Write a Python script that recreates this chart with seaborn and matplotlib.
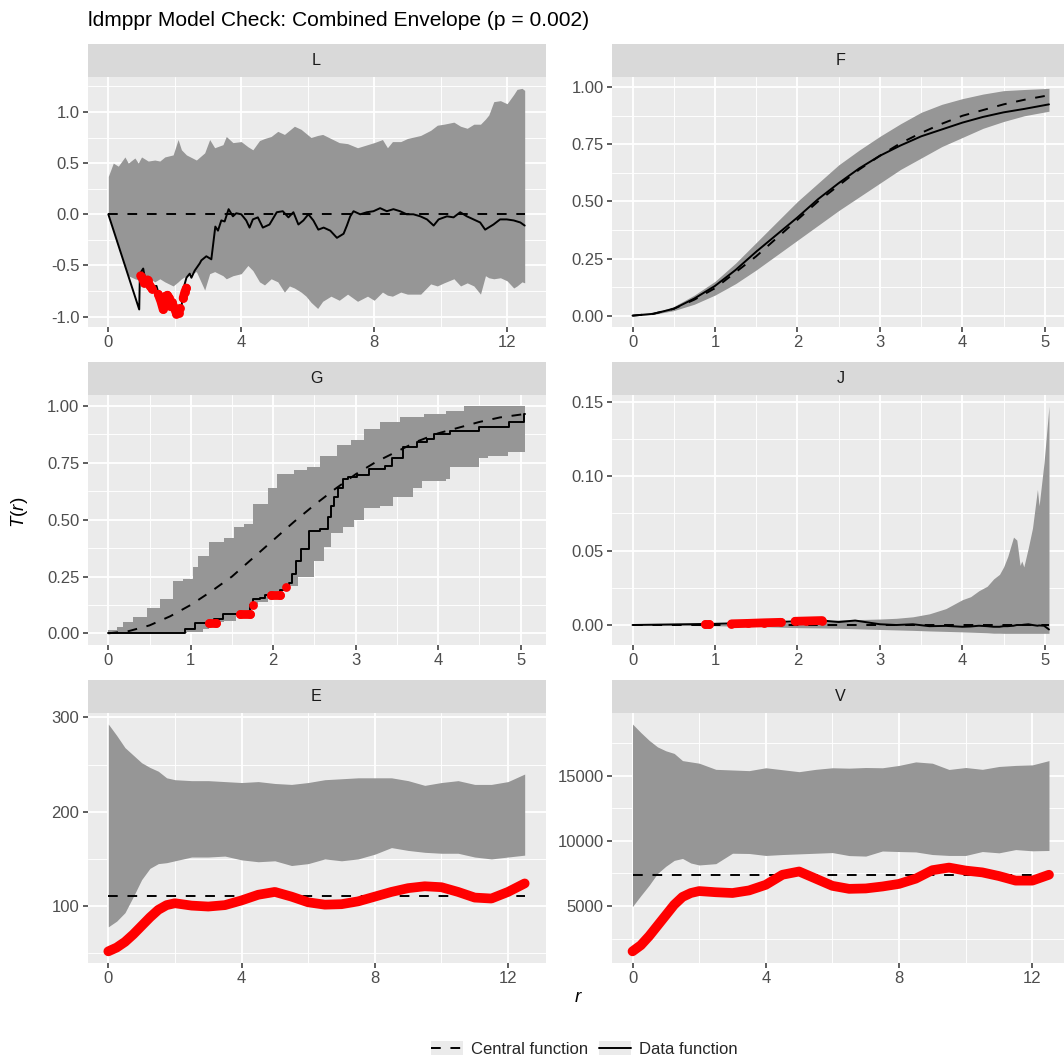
import numpy as np
import pandas as pd
import matplotlib
matplotlib.use("Agg")
import matplotlib.pyplot as plt
import seaborn as sns
from matplotlib.lines import Line2D
from matplotlib.patches import Rectangle
from matplotlib.legend_handler import HandlerLine2D

# ---------------- data ----------------
TITLE = "ldmppr Model Check: Combined Envelope (p = 0.002)"
PANEL_NAMES = ["L", "F", "G", "J", "E", "V"]
LEGEND_LABELS = ["Central function", "Data function"]

# L panel
L_r_env = [0, 0.15, 0.3, 0.5, 0.6, 0.8, 0.9, 1.0, 1.2, 1.4, 1.55, 1.7, 1.95, 2.1, 2.2, 2.35, 2.65, 2.9,
           3.05, 3.2, 3.45, 3.55, 3.75, 4.0, 4.2, 4.35, 4.55, 4.7, 4.9, 5.1, 5.3, 5.45, 5.6, 5.8, 5.95,
           6.1, 6.3, 6.45, 6.7, 6.95, 7.2, 7.5, 7.8, 8.0, 8.25, 8.4, 8.55, 8.8, 9.0, 9.4, 9.7, 9.9,
           10.1, 10.4, 10.6, 10.8, 11.0, 11.2, 11.35, 11.45, 11.6, 11.8, 12.0, 12.2, 12.3, 12.45, 12.53]
L_upper = [0.37, 0.50, 0.47, 0.56, 0.50, 0.55, 0.50, 0.56, 0.52, 0.53, 0.52, 0.56, 0.58, 0.73, 0.63, 0.58,
           0.53, 0.60, 0.73, 0.65, 0.68, 0.76, 0.70, 0.71, 0.66, 0.63, 0.72, 0.74, 0.76, 0.81, 0.78, 0.82,
           0.86, 0.83, 0.79, 0.75, 0.77, 0.78, 0.74, 0.70, 0.69, 0.65, 0.68, 0.70, 0.73, 0.65, 0.71, 0.71,
           0.74, 0.77, 0.82, 0.87, 0.88, 0.90, 0.86, 0.84, 0.88, 0.88, 0.93, 0.97, 1.10, 1.11, 1.08, 1.17,
           1.22, 1.23, 1.21]
L_lower = [0.0, -0.15, -0.30, -0.50, -0.60, -0.63, -0.64, -0.66, -0.62, -0.66, -0.63, -0.66, -0.70, -0.66,
           -0.63, -0.60, -0.56, -0.74, -0.58, -0.56, -0.60, -0.63, -0.60, -0.58, -0.50, -0.55, -0.66, -0.69,
           -0.63, -0.66, -0.76, -0.70, -0.72, -0.76, -0.80, -0.86, -0.92, -0.85, -0.80, -0.84, -0.78, -0.85,
           -0.80, -0.84, -0.76, -0.79, -0.80, -0.76, -0.78, -0.78, -0.68, -0.70, -0.67, -0.63, -0.70, -0.67,
           -0.70, -0.78, -0.60, -0.62, -0.63, -0.62, -0.65, -0.72, -0.70, -0.66, -0.67]
L_r_cen = [0, 12.53]
L_cen = [0.0, 0.0]
L_r_dat = [0, 0.93, 0.95, 1.05, 1.1, 1.2, 1.3, 1.45, 1.55, 1.65, 1.72, 1.8, 1.88, 2.05, 2.2, 2.25, 2.35,
           2.45, 2.5, 2.6, 2.75, 2.8, 2.95, 3.1, 3.22, 3.3, 3.4, 3.5, 3.62, 3.75, 3.85, 4.0, 4.15, 4.25,
           4.35, 4.5, 4.65, 4.85, 5.07, 5.25, 5.42, 5.57, 5.72, 5.87, 6.02, 6.17, 6.32, 6.48, 6.68, 6.88,
           7.08, 7.18, 7.28, 7.38, 7.58, 7.78, 7.98, 8.18, 8.38, 8.58, 8.78, 8.98, 9.18, 9.39, 9.59, 9.79,
           9.94, 10.19, 10.39, 10.59, 10.79, 10.99, 11.19, 11.34, 11.59, 11.79, 11.99, 12.2, 12.4, 12.53]
L_dat = [0.0, -0.93, -0.58, -0.53, -0.62, -0.64, -0.71, -0.70, -0.82, -0.94, -0.80, -0.80, -0.90, -0.99,
         -0.92, -0.74, -0.62, -0.58, -0.62, -0.55, -0.48, -0.45, -0.41, -0.44, -0.12, -0.16, -0.06, -0.07,
         0.05, -0.02, 0.01, 0.0, -0.06, -0.13, -0.05, -0.03, -0.13, -0.10, 0.02, 0.03, -0.03, 0.02, -0.10,
         -0.06, 0.0, -0.06, -0.15, -0.13, -0.16, -0.23, -0.19, -0.11, -0.02, 0.03, 0.0, 0.02, 0.03, 0.06,
         0.03, 0.05, 0.03, 0.0, 0.0, -0.02, -0.05, -0.11, -0.05, -0.02, -0.03, 0.02, -0.02, -0.05, -0.08,
         -0.15, -0.10, -0.05, -0.05, -0.06, -0.08, -0.11]
L_red_r = [0.97, 1.03, 1.08, 1.18, 1.25, 1.32, 1.5, 1.58, 1.65, 1.7, 1.72, 1.78, 1.84, 1.87,
           1.92, 2.0, 2.05, 2.12, 2.15, 2.25, 2.3, 2.35]
L_red_v = [-0.60, -0.63, -0.67, -0.64, -0.70, -0.73, -0.78, -0.85, -0.93, -0.88, -0.80, -0.79, -0.82, -0.90,
           -0.86, -0.93, -0.97, -0.96, -0.92, -0.82, -0.76, -0.72]
L_red_seg = [0, 0, 0, 1, 1, 1, 2, 2, 2, 2, 2, 2, 2, 2, 3, 3, 3, 3, 3, 4, 4, 4]

# F panel
F_r = [0, 0.25, 0.5, 0.75, 1, 1.25, 1.5, 1.75, 2, 2.25, 2.5, 2.75, 3, 3.25, 3.5, 3.75, 4, 4.25, 4.5, 4.75, 5.05]
F_cen = [0, 0.008, 0.03, 0.07, 0.12, 0.19, 0.26, 0.34, 0.42, 0.50, 0.57, 0.64, 0.70, 0.755, 0.80, 0.84,
         0.875, 0.90, 0.925, 0.945, 0.965]
F_dat = [0, 0.008, 0.03, 0.075, 0.13, 0.20, 0.28, 0.355, 0.43, 0.51, 0.58, 0.645, 0.70, 0.745, 0.785,
         0.815, 0.845, 0.87, 0.89, 0.905, 0.925]
F_upper = [0, 0.01, 0.04, 0.09, 0.15, 0.23, 0.32, 0.41, 0.50, 0.58, 0.66, 0.725, 0.785, 0.84, 0.89, 0.925,
           0.95, 0.97, 0.985, 0.99, 0.995]
F_lower = [0, 0.005, 0.022, 0.05, 0.09, 0.14, 0.20, 0.265, 0.33, 0.395, 0.46, 0.52, 0.58, 0.64, 0.69, 0.74,
           0.78, 0.82, 0.85, 0.875, 0.895]

# G panel (step functions)
G_r_env = [0, 0.1, 0.18, 0.3, 0.47, 0.63, 0.79, 0.91, 0.95, 1.03, 1.09, 1.15, 1.22, 1.4, 1.52, 1.55, 1.64,
           1.74, 1.76, 1.82, 1.94, 2.04, 2.12, 2.25, 2.3, 2.41, 2.5, 2.57, 2.62, 2.7, 2.77, 2.85, 2.94, 2.98,
           3.1, 3.3, 3.45, 3.54, 3.7, 3.8, 3.83, 4.1, 4.15, 4.31, 4.5, 4.6, 4.85, 5.05]
G_upper = [0.015, 0.03, 0.05, 0.07, 0.11, 0.15, 0.23, 0.24, 0.24, 0.29, 0.34, 0.34, 0.40, 0.42, 0.47, 0.47,
           0.48, 0.48, 0.57, 0.57, 0.64, 0.70, 0.70, 0.72, 0.72, 0.73, 0.73, 0.78, 0.78, 0.78, 0.83, 0.83,
           0.85, 0.85, 0.90, 0.93, 0.93, 0.95, 0.95, 0.95, 0.966, 0.98, 0.98, 1.0, 1.0, 1.0, 1.0, 1.0]
G_lower = [0, 0, 0, 0, 0, 0, 0, 0, 0.008, 0.008, 0.008, 0.02, 0.05, 0.055, 0.055, 0.09, 0.09, 0.13, 0.13,
           0.14, 0.175, 0.175, 0.21, 0.21, 0.25, 0.25, 0.32, 0.32, 0.38, 0.44, 0.44, 0.47, 0.47, 0.50, 0.55,
           0.56, 0.60, 0.60, 0.64, 0.67, 0.67, 0.68, 0.73, 0.73, 0.77, 0.78, 0.80, 0.82]
G_r_cen = [0, 0.25, 0.5, 0.75, 1, 1.25, 1.5, 1.75, 2, 2.25, 2.5, 2.75, 3, 3.25, 3.5, 3.75, 4, 4.25, 4.5, 4.75, 5.05]
G_cen = [0, 0.01, 0.035, 0.075, 0.125, 0.185, 0.25, 0.33, 0.41, 0.49, 0.565, 0.635, 0.70, 0.755, 0.80,
         0.845, 0.88, 0.905, 0.93, 0.95, 0.965]
G_r_dat = [0, 0.93, 1.05, 1.28, 1.39, 1.72, 1.76, 1.84, 1.9, 2.08, 2.15, 2.19, 2.23, 2.28, 2.34, 2.43, 2.57,
           2.67, 2.7, 2.74, 2.79, 2.85, 2.91, 3.02, 3.16, 3.36, 3.44, 3.5, 3.58, 3.74, 3.86, 3.95, 4.15,
           4.49, 4.86, 4.96, 5.04, 5.05]
G_dat = [0, 0.02, 0.044, 0.061, 0.085, 0.124, 0.15, 0.155, 0.17, 0.19, 0.205, 0.22, 0.26, 0.32, 0.37, 0.45,
         0.46, 0.51, 0.56, 0.60, 0.64, 0.68, 0.69, 0.695, 0.725, 0.735, 0.77, 0.77, 0.82, 0.84, 0.857, 0.875,
         0.89, 0.908, 0.93, 0.93, 0.966, 0.966]
G_red_r = [1.22, 1.30, 1.60, 1.72, 1.76, 1.97, 2.08, 2.15]
G_red_v = [0.044, 0.044, 0.085, 0.085, 0.124, 0.17, 0.17, 0.205]
G_red_seg = [0, 0, 1, 1, 2, 3, 3, 4]

# J panel
J_r = [0, 0.5, 1.0, 1.5, 2.0, 2.3, 2.5, 2.7, 3.0, 3.2, 3.4, 3.6, 3.8, 4.0, 4.1, 4.2, 4.3, 4.38, 4.45, 4.5,
       4.55, 4.62, 4.66, 4.70, 4.72, 4.745, 4.8, 4.85, 4.91, 4.93, 4.99, 5.05]
J_upper = [0.0002, 0.0004, 0.0006, 0.001, 0.0018, 0.0026, 0.0034, 0.0036, 0.0040, 0.0045, 0.0055, 0.0075,
           0.011, 0.017, 0.019, 0.023, 0.026, 0.031, 0.034, 0.039, 0.046, 0.059, 0.057, 0.040, 0.043, 0.039,
           0.052, 0.065, 0.091, 0.080, 0.109, 0.147]
J_lower = [0, -0.0002, -0.0005, -0.001, -0.0018, -0.002, -0.0022, -0.0025, -0.003, -0.0033, -0.0036, -0.004,
           -0.0043, -0.0046, -0.0048, -0.005, -0.0052, -0.0055, -0.0055, -0.0056, -0.0056, -0.0056, -0.0056,
           -0.0056, -0.0056, -0.0056, -0.0056, -0.0056, -0.0056, -0.0056, -0.0056, -0.0056]
J_dat = [0, 0.0004, 0.0008, 0.0015, 0.0025, 0.003, 0.002, 0.003, 0.0005, 0.0, 0.0005, -0.0008, -0.0006,
         -0.0012, -0.001, -0.0005, -0.0008, -0.0012, -0.0012, -0.0008, -0.0008, -0.0005, 0.0, 0.0, 0.0,
         0.0002, 0.0005, 0.0, -0.0005, -0.0003, -0.0005, -0.003]
J_r_cen = [0, 5.05]
J_cen = [0.0, 0.0]
J_red_r = [0.88, 0.93, 1.2, 1.4, 1.6, 1.8, 1.97, 2.1, 2.3]
J_red_v = [0.0006, 0.0006, 0.0008, 0.0011, 0.0015, 0.0018, 0.0025, 0.0027, 0.003]
J_red_seg = [0, 0, 1, 1, 1, 1, 2, 2, 2]

# E panel
E_r = [0, 0.25, 0.5, 0.75, 1.0, 1.25, 1.5, 1.75, 2.0, 2.5, 3.0, 3.5, 4.0, 4.5, 5.0, 5.5, 6.0, 6.5, 7.0,
       7.5, 8.0, 8.5, 9.0, 9.5, 10.0, 10.5, 11.0, 11.5, 12.0, 12.5]
E_upper = [293, 281, 268, 260, 252, 247, 243, 236, 234, 233, 233, 232, 231, 232, 230, 229, 231, 234, 235,
           236, 236, 236, 233, 228, 231, 233, 229, 229, 232, 240]
E_lower = [78, 84, 93, 110, 128, 140, 145, 146, 148, 152, 152, 153, 149, 147, 148, 143, 145, 150, 148,
           150, 155, 162, 159, 157, 156, 156, 152, 150, 152, 154]
E_dat = [52, 56, 62, 70, 79, 88, 96, 101, 103, 100.5, 99.5, 101, 106, 112, 115, 110, 104, 101.5, 102,
         105, 110, 115, 119, 121, 120, 115, 109, 108, 115, 124]
E_r_cen = [0, 12.5]
E_cen = [111, 111]

# V panel
V_upper = [18950, 18300, 17700, 17200, 16900, 16700, 16150, 16050, 15950, 15480, 15430, 15380, 15600,
           15450, 15300, 15480, 15600, 15570, 15620, 15600, 15780, 16050, 15950, 15470, 15620, 15480,
           15700, 15780, 15820, 16150]
V_lower = [4970, 5800, 6600, 7500, 8050, 8500, 8650, 8300, 8150, 8250, 9050, 9030, 8880, 8950, 9000,
           9050, 9100, 8870, 8830, 9220, 9180, 9150, 8950, 8880, 8880, 9180, 9080, 9330, 9235, 9260]
V_dat = [1530, 2000, 2700, 3500, 4300, 5100, 5700, 6000, 6150, 6060, 6000, 6200, 6630, 7400, 7650, 7100,
         6550, 6320, 6350, 6500, 6700, 7100, 7750, 7950, 7720, 7580, 7300, 6950, 6950, 7400]
V_cen = [7400, 7400]

# tick breaks and labels
X_LONG = [0, 4, 8, 12]
X_LONG_LAB = ["0", "4", "8", "12"]
X_LONG_MINOR = [2, 6, 10]
X_SHORT = [0, 1, 2, 3, 4, 5]
X_SHORT_LAB = ["0", "1", "2", "3", "4", "5"]
X_SHORT_MINOR = [0.5, 1.5, 2.5, 3.5, 4.5]
Y_L = [-1.0, -0.5, 0.0, 0.5, 1.0]
Y_L_LAB = ["-1.0", "-0.5", "0.0", "0.5", "1.0"]
Y_L_MINOR = [-0.75, -0.25, 0.25, 0.75, 1.25]
Y_P = [0, 0.25, 0.5, 0.75, 1.0]
Y_P_LAB = ["0.00", "0.25", "0.50", "0.75", "1.00"]
Y_P_MINOR = [0.125, 0.375, 0.625, 0.875]
Y_J = [0, 0.05, 0.10, 0.15]
Y_J_LAB = ["0.00", "0.05", "0.10", "0.15"]
Y_J_MINOR = [0.025, 0.075, 0.125]
Y_E = [100, 200, 300]
Y_E_LAB = ["100", "200", "300"]
Y_E_MINOR = [50, 150, 250]
Y_V = [5000, 10000, 15000]
Y_V_LAB = ["5000", "10000", "15000"]
Y_V_MINOR = [2500, 7500, 12500, 17500]

# ---------------- style ----------------
sns.set_theme(style="darkgrid")
plt.rcParams.update({
    "axes.unicode_minus": False,
    "mathtext.fontset": "custom",
    "mathtext.rm": "Liberation Sans",
    "mathtext.it": "Liberation Sans:italic",
})
plt.rcParams["font.family"] = ["Liberation Sans", "DejaVu Sans"]

W, H = 1064, 1059
fig = plt.figure(figsize=(W / 100, H / 100), dpi=100)
fig.patch.set_facecolor("white")

TICK_FS = 12.0
STRIP_FS = 11.6


def rect(x0, y0, x1, y1):
    return [x0 / W, 1 - y1 / H, (x1 - x0) / W, (y1 - y0) / H]


def expand(vals, mult=0.05):
    lo, hi = min(vals), max(vals)
    pad = (hi - lo) * mult
    return lo - pad, hi + pad


COLS = [(87.5, 545.5), (611.7, 1069.8)]
STRIP_TOPS = [44, 361.7, 679.7]
STRIP_H = 33
PANEL_H = 250

ENV_COL = "#969696"
DASH = (0, (5, 5))

panels = [
    dict(name=PANEL_NAMES[0], row=0, col=0, r_env=L_r_env, up=L_upper, lo=L_lower, r_cen=L_r_cen, cen=L_cen,
         r_dat=L_r_dat, dat=L_dat, red=(L_red_r, L_red_v, L_red_seg), thick=False, step=False,
         xt=(X_LONG, X_LONG_LAB, X_LONG_MINOR), yt=(Y_L, Y_L_LAB, Y_L_MINOR)),
    dict(name=PANEL_NAMES[1], row=0, col=1, r_env=F_r, up=F_upper, lo=F_lower, r_cen=F_r, cen=F_cen,
         r_dat=F_r, dat=F_dat, red=None, thick=False, step=False,
         xt=(X_SHORT, X_SHORT_LAB, X_SHORT_MINOR), yt=(Y_P, Y_P_LAB, Y_P_MINOR)),
    dict(name=PANEL_NAMES[2], row=1, col=0, r_env=G_r_env, up=G_upper, lo=G_lower, r_cen=G_r_cen, cen=G_cen,
         r_dat=G_r_dat, dat=G_dat, red=(G_red_r, G_red_v, G_red_seg), thick=False, step=True,
         xt=(X_SHORT, X_SHORT_LAB, X_SHORT_MINOR), yt=(Y_P, Y_P_LAB, Y_P_MINOR)),
    dict(name=PANEL_NAMES[3], row=1, col=1, r_env=J_r, up=J_upper, lo=J_lower, r_cen=J_r_cen, cen=J_cen,
         r_dat=J_r, dat=J_dat, red=(J_red_r, J_red_v, J_red_seg), thick=False, step=False,
         xt=(X_SHORT, X_SHORT_LAB, X_SHORT_MINOR), yt=(Y_J, Y_J_LAB, Y_J_MINOR)),
    dict(name=PANEL_NAMES[4], row=2, col=0, r_env=E_r, up=E_upper, lo=E_lower, r_cen=E_r_cen, cen=E_cen,
         r_dat=E_r, dat=E_dat, red=(E_r, E_dat, [0] * len(E_r)), thick=True, step=False,
         xt=(X_LONG, X_LONG_LAB, X_LONG_MINOR), yt=(Y_E, Y_E_LAB, Y_E_MINOR)),
    dict(name=PANEL_NAMES[5], row=2, col=1, r_env=E_r, up=V_upper, lo=V_lower, r_cen=E_r_cen, cen=V_cen,
         r_dat=E_r, dat=V_dat, red=(E_r, V_dat, [0] * len(E_r)), thick=True, step=False,
         xt=(X_LONG, X_LONG_LAB, X_LONG_MINOR), yt=(Y_V, Y_V_LAB, Y_V_MINOR)),
]

for p in panels:
    x0, x1 = COLS[p["col"]]
    s = STRIP_TOPS[p["row"]]
    ax = fig.add_axes(rect(x0, s + STRIP_H, x1, s + STRIP_H + PANEL_H))
    sax = fig.add_axes(rect(x0, s, x1, s + STRIP_H))
    sax.set_facecolor("#D9D9D9")
    sax.set_xticks([])
    sax.set_yticks([])
    sax.grid(False)
    for sp in sax.spines.values():
        sp.set_visible(False)
    sax.text(0.5, 0.5, p["name"], ha="center", va="center", transform=sax.transAxes,
             fontsize=STRIP_FS, color="#1A1A1A")

    ax.set_facecolor("#EBEBEB")
    ax.set_axisbelow(True)
    for sp in ax.spines.values():
        sp.set_visible(False)

    ax.fill_between(p["r_env"], p["lo"], p["up"], color=ENV_COL, linewidth=0,
                    step="post" if p["step"] else None, zorder=1)
    sns.lineplot(x=p["r_cen"], y=p["cen"], ax=ax, color="black", linewidth=1.4,
                 linestyle=DASH, estimator=None, sort=False, zorder=2)
    kw = dict(drawstyle="steps-post") if p["step"] else {}
    sns.lineplot(x=p["r_dat"], y=p["dat"], ax=ax, color="black", linewidth=1.4,
                 estimator=None, sort=False, zorder=3, **kw)
    if p["red"] is not None:
        rr, rv, rs = p["red"]
        if p["thick"]:
            sns.lineplot(x=rr, y=rv, ax=ax, color="red", linewidth=7, estimator=None, sort=False,
                         solid_capstyle="round", solid_joinstyle="round", zorder=4)
        else:
            red_df = pd.DataFrame({"r": rr, "v": rv, "seg": rs})
            sns.lineplot(data=red_df, x="r", y="v", units="seg", estimator=None, sort=False, ax=ax,
                         color="red", linewidth=6.3, solid_capstyle="round", solid_joinstyle="round",
                         zorder=4)
            sns.scatterplot(x=rr, y=rv, ax=ax, color="red", s=40, linewidth=0, zorder=5)

    xs = list(p["r_env"]) + list(p["r_dat"])
    ys = list(p["up"]) + list(p["lo"]) + list(p["dat"]) + list(p["cen"])
    ax.set_xlim(*expand(xs))
    ax.set_ylim(*expand(ys))
    xt, xtl, xtm = p["xt"]
    yt, ytl, ytm = p["yt"]
    ax.set_xticks(xt, xtl)
    ax.set_xticks(xtm, minor=True)
    ax.set_yticks(yt, ytl)
    ax.set_yticks(ytm, minor=True)
    ax.grid(which="major", color="white", linewidth=1.3)
    ax.grid(which="minor", color="white", linewidth=0.65)
    ax.tick_params(which="major", length=3.3, width=1.1, color="#333333", labelcolor="#4D4D4D",
                   labelsize=TICK_FS, pad=2.5, bottom=True, left=True)
    ax.tick_params(which="minor", length=0)
    ax.set_xlabel("")
    ax.set_ylabel("")

fig.text(87.5 / W, 1 - 21 / H, TITLE, ha="left", va="center", fontsize=15.1, color="black")
fig.text(20 / W, 1 - 512 / H, "$T(r)$", rotation=90, ha="center", va="center", fontsize=13.6, color="black")
fig.text(578.6 / W, 1 - 998 / H, "$r$", ha="center", va="center", fontsize=13.6, color="black")


class BoxedLine(HandlerLine2D):
    def create_artists(self, legend, orig_handle, xdescent, ydescent, width, height, fontsize, trans):
        bg = Rectangle((-xdescent, -ydescent), width, height, facecolor="#EBEBEB",
                       edgecolor="none", transform=trans)
        arts = super().create_artists(legend, orig_handle, xdescent, ydescent, width, height, fontsize, trans)
        return [bg] + list(arts)


handles = [Line2D([], [], color="black", linewidth=1.4, linestyle=DASH),
           Line2D([], [], color="black", linewidth=1.4)]
fig.legend(handles, LEGEND_LABELS, loc="center", bbox_to_anchor=(584 / W, 1 - 1049 / H), ncol=2,
           frameon=False, fontsize=TICK_FS, handlelength=1.95, handleheight=0.95, handletextpad=0.45,
           columnspacing=0.65, handler_map={Line2D: BoxedLine()})

fig.savefig("out.png", dpi=100)
